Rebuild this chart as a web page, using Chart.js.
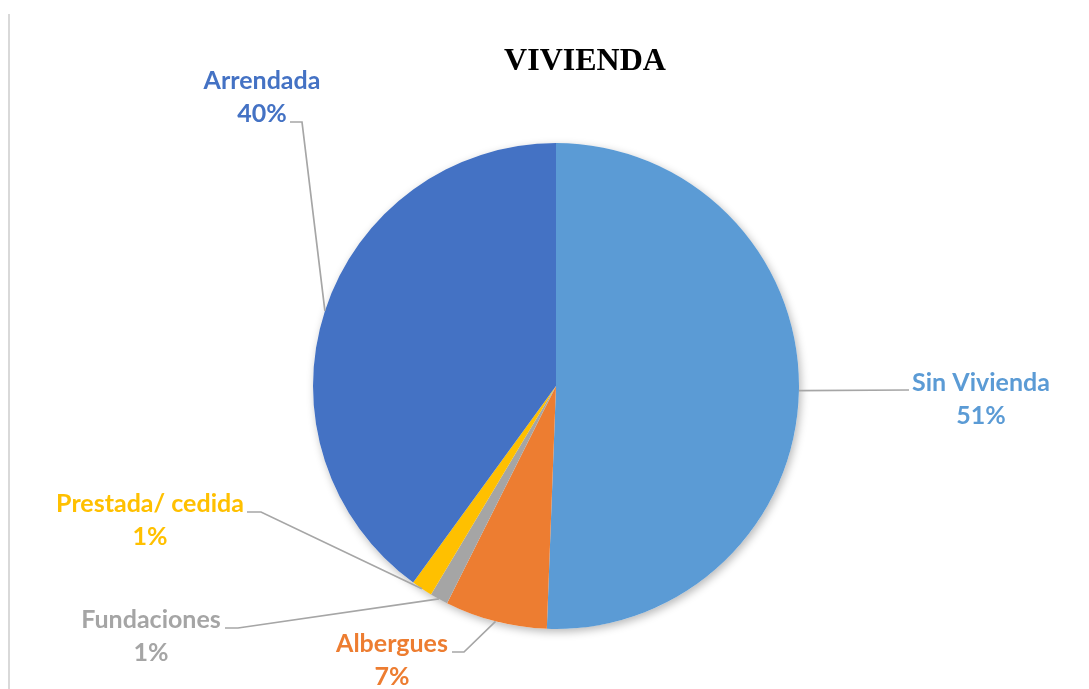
<!DOCTYPE html>
<html lang="es">
<head>
<meta charset="UTF-8">
<title>VIVIENDA</title>
<script src="https://cdn.jsdelivr.net/npm/chart.js"></script>
<style>
  html, body { margin: 0; padding: 0; background: #fff; }
  #wrap { position: relative; width: 1089px; height: 689px; }
  #frame { position: absolute; left: 8px; top: 14px; width: 2px; height: 675px; background: #d9d9d9; }
  #viviendaChart { position: absolute; left: 0; top: 0; }
</style>
</head>
<body>
<div id="wrap">
  <div id="frame"></div>
  <canvas id="viviendaChart" width="1089" height="689"></canvas>
</div>

<script>
// data (share of people by type of housing, %)
const categories = ['Sin Vivienda', 'Albergues', 'Fundaciones', 'Prestada/ cedida', 'Arrendada'];
const shares = [50.6, 6.8, 1.2, 1.4, 40.0];
const colors = ['#5B9BD5', '#ED7D31', '#A5A5A5', '#FFC000', '#4472C4'];

// label placement: text centre x, first baseline y, start and elbow of the leader
const labelSpots = [
    { x: 981, y: 391, lx: 909, ly: 390, ex: 909 },
    { x: 392, y: 652, lx: 452, ly: 652, ex: 464 },
    { x: 151, y: 628, lx: 225, ly: 628, ex: 238 },
    { x: 150, y: 512, lx: 247, ly: 512, ex: 261 },
    { x: 262, y: 89,  lx: 290, ly: 122, ex: 302 }
];

const total = shares.reduce((a, b) => a + b, 0);

const pieShadow = {
    id: 'pieShadow',
    beforeDatasetsDraw(chart) {
        const arc = chart.getDatasetMeta(0).data[0];
        const { x, y, outerRadius } = arc.getProps(['x', 'y', 'outerRadius'], true);
        const ctx = chart.ctx;
        ctx.save();
        ctx.shadowColor = 'rgba(0,0,0,0.28)';
        ctx.shadowBlur = 9;
        ctx.shadowOffsetX = 2;
        ctx.shadowOffsetY = 3;
        ctx.beginPath();
        ctx.arc(x, y, outerRadius, 0, Math.PI * 2);
        ctx.fillStyle = '#fff';
        ctx.fill();
        ctx.restore();
    }
};

const outsideLabels = {
    id: 'outsideLabels',
    afterDatasetsDraw(chart) {
        const ctx = chart.ctx;
        const meta = chart.getDatasetMeta(0);
        ctx.save();
        // title
        ctx.font = 'bold 32px "Liberation Serif", "Times New Roman", serif';
        ctx.fillStyle = '#000';
        ctx.textAlign = 'center';
        ctx.textBaseline = 'alphabetic';
        ctx.fillText('VIVIENDA', 585, 70);

        meta.data.forEach((arc, i) => {
            const p = arc.getProps(['x', 'y', 'startAngle', 'endAngle', 'outerRadius'], true);
            const mid = (p.startAngle + p.endAngle) / 2;
            const ax = p.x + Math.cos(mid) * p.outerRadius;
            const ay = p.y + Math.sin(mid) * p.outerRadius;
            const s = labelSpots[i];

            ctx.strokeStyle = '#A6A6A6';
            ctx.lineWidth = 1.7;
            ctx.beginPath();
            ctx.moveTo(s.lx, s.ly);
            ctx.lineTo(s.ex, s.ly);
            ctx.lineTo(ax, ay);
            ctx.stroke();

            ctx.fillStyle = colors[i];
            ctx.font = 'bold 25px Lato, "Open Sans", sans-serif';
            ctx.textAlign = 'center';
            ctx.fillText(categories[i], s.x, s.y);
            ctx.fillText(Math.round(shares[i] / total * 100) + '%', s.x, s.y + 33);
        });
        ctx.restore();
    }
};

new Chart(document.getElementById('viviendaChart'), {
    type: 'pie',
    data: {
        labels: categories,
        datasets: [{
            data: shares,
            backgroundColor: colors,
            borderWidth: 0
        }]
    },
    options: {
        responsive: false,
        animation: false,
        events: [],
        layout: { padding: { left: 313, right: 290, top: 143, bottom: 60 } },
        plugins: {
            legend: { display: false },
            title: { display: false },
            tooltip: { enabled: false }
        }
    },
    plugins: [pieShadow, outsideLabels]
});
</script>
</body>
</html>
